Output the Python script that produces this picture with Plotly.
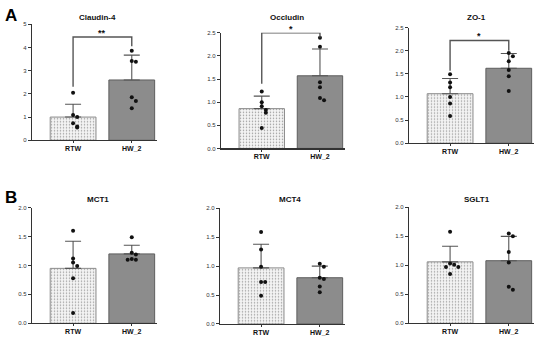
import plotly.graph_objects as go

W, H = 550, 343

GROUPS = ["RTW", "HW_2"]
TITLES = ["Claudin-4", "Occludin", "ZO-1", "MCT1", "MCT4", "SGLT1"]

# means, SD (upper error), individual points
MEANS = {
    "Claudin-4": [1.00, 2.60],
    "Occludin": [0.86, 1.57],
    "ZO-1": [1.07, 1.62],
    "MCT1": [0.95, 1.20],
    "MCT4": [0.97, 0.80],
    "SGLT1": [1.06, 1.08],
}
SDS = {
    "Claudin-4": [0.55, 1.07],
    "Occludin": [0.27, 0.58],
    "ZO-1": [0.33, 0.32],
    "MCT1": [0.47, 0.15],
    "MCT4": [0.41, 0.20],
    "SGLT1": [0.27, 0.42],
}
POINTS = {
    "Claudin-4": [[2.05, 1.09, 1.00, 0.73, 0.59, 0.55], [3.86, 3.42, 3.39, 1.86, 1.69, 1.38]],
    "Occludin": [[1.23, 1.00, 0.91, 0.83, 0.77, 0.44], [2.39, 2.20, 1.43, 1.32, 1.09, 1.04]],
    "ZO-1": [[1.49, 1.31, 1.21, 1.00, 0.86, 0.59], [1.95, 1.88, 1.77, 1.58, 1.45, 1.13]],
    "MCT1": [[1.60, 1.12, 1.05, 0.99, 0.78, 0.18], [1.49, 1.22, 1.19, 1.11, 1.10, 1.10]],
    "MCT4": [[1.59, 1.29, 0.99, 0.725, 0.725, 0.49], [1.04, 0.99, 0.80, 0.78, 0.65, 0.55]],
    "SGLT1": [[1.58, 1.03, 1.01, 0.97, 0.97, 0.85], [1.55, 1.50, 1.23, 1.05, 0.63, 0.58]],
}
Y_MAX = {"Claudin-4": 5, "Occludin": 2.5, "ZO-1": 2.5, "MCT1": 2.0, "MCT4": 2.0, "SGLT1": 2.0}
Y_DTICK = {"Claudin-4": 1, "Occludin": 0.5, "ZO-1": 0.5, "MCT1": 0.5, "MCT4": 0.5, "SGLT1": 0.5}

# significance: (label, bracket level, left-leg bottom, right-leg bottom, label level)
SIG = {
    "Claudin-4": ("**", 4.45, 2.31, 4.05, 4.72),
    "Occludin": ("*", 2.50, 1.40, 2.40, 2.63),
    "ZO-1": ("*", 2.22, 1.565, 2.00, 2.36),
}

# layout in page pixels: (x_left, x_right, y_top, y_bottom, title center x, title y)
PANELS = [
    (32, 157, 21.7, 139.7, 97, 15),
    (221, 345, 30.3, 148.0, 287, 15),
    (409, 534, 25.0, 142.7, 476, 15),
    (32, 157, 208.3, 326.0, 98, 200),
    (220, 345, 209.0, 326.7, 290, 200),
    (409, 534, 208.0, 326.0, 477, 200),
]

FONT = "Arial, Liberation Sans, sans-serif"
XR = [-0.70, 1.43]
BAR_W = 0.78


def px_x(p):
    return p / W


def px_y(p):
    return 1 - p / H


def jitter(vals, yrange):
    # spread points that sit very close together (beeswarm-like)
    offs = []
    placed = []
    for v in vals:
        near = [o for (pv, o) in placed if abs(pv - v) < 0.035 * yrange]
        if not near:
            o = 0.0
        else:
            k = len(near)
            o = 0.07 * ((k + 1) // 2) * (1 if k % 2 else -1)
        placed.append((v, o))
        offs.append(o)
    return offs


fig = go.Figure()
layout = {}

for i, name in enumerate(TITLES):
    n = i + 1
    xa = "x" if n == 1 else f"x{n}"
    ya = "y" if n == 1 else f"y{n}"
    xl, xr, yt, yb, tcx, tcy = PANELS[i]

    fig.add_trace(go.Bar(
        x=[0, 1], y=MEANS[name], width=BAR_W,
        marker=dict(
            color=["#f3f3f3", "#8c8c8c"],
            line=dict(color=["#8a8a8a", "#5e5e5e"], width=1),
            pattern=dict(shape=[".", ""], fgcolor="#bdbdbd", bgcolor="#f4f4f4",
                         size=3, solidity=0.2),
        ),
        error_y=dict(type="data", symmetric=False, array=SDS[name],
                     arrayminus=[0, 0], color="#555555", thickness=1.1, width=8),
        xaxis=xa, yaxis=ya, showlegend=False, hoverinfo="skip",
    ))

    for g in range(2):
        vals = POINTS[name][g]
        offs = jitter(vals, Y_MAX[name])
        fig.add_trace(go.Scatter(
            x=[g + o for o in offs], y=vals, mode="markers",
            marker=dict(color="#111111", size=4),
            xaxis=xa, yaxis=ya, showlegend=False, hoverinfo="skip",
            cliponaxis=False,
        ))

    key_x = "xaxis" if n == 1 else f"xaxis{n}"
    key_y = "yaxis" if n == 1 else f"yaxis{n}"
    layout[key_x] = dict(
        domain=[px_x(xl), px_x(xr)], range=XR, anchor=ya,
        tickmode="array", tickvals=[0, 1], ticktext=[f"<b>{t}</b>" for t in GROUPS],
        showline=True, linecolor="#333333", linewidth=1.2, ticks="outside",
        ticklen=2, tickwidth=1, tickcolor="#333333", showgrid=False, zeroline=False,
        ticklabelstandoff=-1,
        tickfont=dict(family=FONT, size=7, color="#111111"), fixedrange=True,
    )
    layout[key_y] = dict(
        domain=[px_y(yb), px_y(yt)], range=[0, Y_MAX[name]], anchor=xa,
        dtick=Y_DTICK[name], tick0=0,
        tickformat="d" if Y_DTICK[name] == 1 else ".1f",
        showline=True, linecolor="#333333", linewidth=1.2, ticks="outside",
        ticklen=3, tickwidth=1, tickcolor="#333333", showgrid=False, zeroline=False,
        tickfont=dict(family=FONT, size=6, color="#333333"), fixedrange=True,
    )

    fig.add_annotation(text=f"<b>{name}</b>", x=px_x(tcx), y=px_y(tcy),
                       xref="paper", yref="paper", showarrow=False,
                       font=dict(family=FONT, size=8, color="#111111"),
                       xanchor="center", yanchor="middle")

    if name in SIG:
        lab, lvl, lb, rb, ly = SIG[name]
        fig.add_shape(type="path",
                      path=f"M 0 {lb} L 0 {lvl} L 1 {lvl} L 1 {rb}",
                      xref=xa, yref=ya, line=dict(color="#555555", width=1.4))
        fig.add_annotation(text=f"<b>{lab}</b>", x=0.5, y=ly / Y_MAX[name],
                           xref=xa, yref=f"{ya} domain",
                           showarrow=False, yanchor="middle", yshift=-2,
                           font=dict(family=FONT, size=9, color="#111111"))

for lab, py in [("A", 13), ("B", 198)]:
    fig.add_annotation(text=f"<b>{lab}</b>", x=px_x(11), y=px_y(py),
                       xref="paper", yref="paper", showarrow=False,
                       font=dict(family=FONT, size=17, color="#000000"),
                       xanchor="center", yanchor="middle")

fig.update_layout(
    width=W, height=H, margin=dict(l=0, r=0, t=0, b=0),
    paper_bgcolor="white", plot_bgcolor="white", bargap=0,
    hovermode=False,
    **layout,
)

fig.write_html("out.html", config={"displayModeBar": False, "staticPlot": True},
               post_script="document.body.style.margin='0px';")
